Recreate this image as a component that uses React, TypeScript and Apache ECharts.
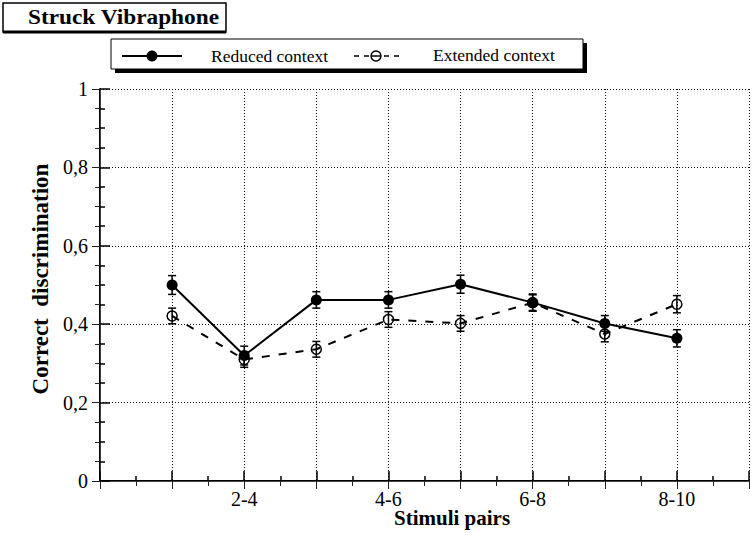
import React, { useEffect, useRef } from "react";
import * as echarts from "echarts";

// Stimulus pairs along the x axis (only every second pair is labelled)
const categories = ["1-3", "2-4", "3-5", "4-6", "5-7", "6-8", "7-9", "8-10"];
// Proportion of correct discrimination per pair
const reduced = [0.5, 0.32, 0.462, 0.462, 0.502, 0.455, 0.402, 0.364];
const extended = [0.421, 0.31, 0.336, 0.412, 0.402, 0.455, 0.375, 0.451];
// Half-widths of the error bars
const reducedErr = [0.024, 0.024, 0.021, 0.021, 0.023, 0.02, 0.02, 0.022];
const extendedErr = [0.02, 0.02, 0.02, 0.02, 0.02, 0.022, 0.02, 0.022];
// Y tick labels (decimal comma)
const yTickLabels = ["0", "0,2", "0,4", "0,6", "0,8", "1"];

const SERIF = "Liberation Serif";

function errorBars(values: number[], errs: number[]) {
  return {
    type: "custom",
    xAxisIndex: 0,
    yAxisIndex: 0,
    z: 3,
    silent: true,
    data: values.map((v, i) => [i + 1, v, errs[i]]),
    renderItem: (_params: any, api: any) => {
      const x = api.value(0);
      const y = api.value(1);
      const e = api.value(2);
      const top = api.coord([x, y + e]);
      const bot = api.coord([x, y - e]);
      const hw = 4;
      const style = { stroke: "#000", lineWidth: 1.5 };
      return {
        type: "group",
        children: [
          { type: "line", shape: { x1: top[0], y1: top[1], x2: bot[0], y2: bot[1] }, style },
          { type: "line", shape: { x1: top[0] - hw, y1: top[1], x2: top[0] + hw, y2: top[1] }, style },
          { type: "line", shape: { x1: bot[0] - hw, y1: bot[1], x2: bot[0] + hw, y2: bot[1] }, style },
        ],
      };
    },
  };
}

export default function App() {
  const ref = useRef<HTMLDivElement>(null);

  useEffect(() => {
    if (!ref.current) return;
    const chart = echarts.init(ref.current, undefined, { renderer: "svg" });

    const tickStyle = { color: "#000", width: 1.5 };
    const gridLine = { color: "#111", width: 1, type: [1, 2] as any };

    chart.setOption({
      animation: false,
      backgroundColor: "#fff",
      textStyle: { fontFamily: SERIF },
      grid: { left: 100, top: 89, width: 656, height: 392 },
      xAxis: [
        {
          type: "value",
          position: "bottom",
          min: 0,
          max: 9,
          interval: 1,
          axisLine: { lineStyle: { color: "#000", width: 2 } },
          axisTick: { inside: true, length: 10, lineStyle: tickStyle },
          minorTick: { show: true, splitNumber: 2, length: 5, lineStyle: tickStyle },
          splitLine: { show: true, lineStyle: gridLine },
          axisLabel: {
            color: "#000",
            fontFamily: SERIF,
            fontSize: 20,
            margin: 8,
            formatter: (v: number) => {
              const i = Math.round(v) - 1;
              return i % 2 === 1 && categories[i] ? categories[i] : "";
            },
          },
        },
        {
          type: "value",
          position: "top",
          min: 0,
          max: 9,
          interval: 1,
          axisLine: { lineStyle: { color: "#444", width: 1 } },
          axisTick: { inside: true, length: 8, lineStyle: { color: "#222", width: 1 } },
          minorTick: { show: true, splitNumber: 2, length: 5, lineStyle: { color: "#222", width: 1 } },
          splitLine: { show: false },
          axisLabel: { show: false },
        },
      ],
      yAxis: [
        {
          type: "value",
          position: "left",
          min: 0,
          max: 1,
          interval: 0.2,
          axisLine: { lineStyle: { color: "#000", width: 2 } },
          axisTick: { inside: true, length: 10, lineStyle: tickStyle },
          minorTick: { show: true, splitNumber: 4, length: 5, lineStyle: tickStyle },
          splitLine: { show: true, lineStyle: gridLine },
          axisLabel: {
            color: "#000",
            fontFamily: SERIF,
            fontSize: 20,
            margin: 12,
            formatter: (v: number) => yTickLabels[Math.round(v / 0.2)] ?? "",
          },
        },
        {
          type: "value",
          position: "right",
          min: 0,
          max: 1,
          interval: 0.2,
          axisLine: { lineStyle: { color: "#444", width: 1 } },
          axisTick: { inside: true, length: 8, lineStyle: { color: "#222", width: 1 } },
          minorTick: { show: true, splitNumber: 4, length: 5, lineStyle: { color: "#222", width: 1 } },
          splitLine: { show: false },
          axisLabel: { show: false },
        },
      ],
      series: [
        errorBars(extended, extendedErr),
        errorBars(reduced, reducedErr),
        {
          name: "Extended context",
          type: "line",
          z: 4,
          data: extended.map((v, i) => [i + 1, v]),
          symbol: "circle",
          symbolSize: 10,
          itemStyle: { color: "rgba(0,0,0,0)", borderColor: "#000", borderWidth: 1.5 },
          lineStyle: { color: "#000", width: 2, type: [8, 9] },
        },
        {
          name: "Reduced context",
          type: "line",
          z: 5,
          data: reduced.map((v, i) => [i + 1, v]),
          symbol: "circle",
          symbolSize: 11,
          itemStyle: { color: "#000" },
          lineStyle: { color: "#000", width: 2 },
        },
      ],
      graphic: [
        // title box
        {
          type: "rect",
          shape: { x: 3, y: 3, width: 223, height: 29 },
          style: { fill: "#fff", stroke: "#000", lineWidth: 1.5 },
        },
        {
          type: "line",
          shape: { x1: 3, y1: 32, x2: 226, y2: 32 },
          style: { stroke: "#000", lineWidth: 3 },
        },
        {
          type: "text",
          x: 28,
          y: 17,
          scaleX: 1.06,
          style: {
            text: "Struck Vibraphone",
            fontFamily: SERIF,
            fontWeight: "bold",
            fontSize: 22,
            fill: "#000",
            verticalAlign: "middle",
          },
        },
        // legend box with drop shadow
        {
          type: "rect",
          shape: { x: 115, y: 43, width: 472, height: 30 },
          style: { fill: "#000" },
        },
        {
          type: "rect",
          shape: { x: 111, y: 39, width: 472, height: 30 },
          style: { fill: "#fff", stroke: "#000", lineWidth: 1 },
        },
        {
          type: "line",
          shape: { x1: 122, y1: 56, x2: 182, y2: 56 },
          style: { stroke: "#000", lineWidth: 2 },
        },
        {
          type: "circle",
          shape: { cx: 152, cy: 56, r: 5.5 },
          style: { fill: "#000" },
        },
        {
          type: "text",
          x: 211,
          y: 56,
          style: {
            text: "Reduced context",
            fontFamily: SERIF,
            fontSize: 17.5,
            fill: "#000",
            verticalAlign: "middle",
          },
        },
        {
          type: "line",
          shape: { x1: 354, y1: 56, x2: 402, y2: 56 },
          style: { stroke: "#000", lineWidth: 1.5, lineDash: [5, 5] },
        },
        {
          type: "circle",
          shape: { cx: 376, cy: 56, r: 5 },
          style: { fill: "#fff", stroke: "#000", lineWidth: 1.5 },
        },
        {
          type: "line",
          shape: { x1: 371, y1: 56, x2: 381, y2: 56 },
          style: { stroke: "#000", lineWidth: 1.5 },
        },
        {
          type: "text",
          x: 433,
          y: 55,
          style: {
            text: "Extended context",
            fontFamily: SERIF,
            fontSize: 17.5,
            fill: "#000",
            verticalAlign: "middle",
          },
        },
        // axis names
        {
          type: "text",
          x: 40,
          y: 279,
          rotation: Math.PI / 2,
          style: {
            text: "Correct  discrimination",
            fontFamily: SERIF,
            fontWeight: "bold",
            fontSize: 23,
            fill: "#000",
            align: "center",
            verticalAlign: "middle",
          },
        },
        {
          type: "text",
          x: 452,
          y: 518,
          style: {
            text: "Stimuli pairs",
            fontFamily: SERIF,
            fontWeight: "bold",
            fontSize: 21,
            fill: "#000",
            align: "center",
            verticalAlign: "middle",
          },
        },
      ],
    });

    return () => chart.dispose();
  }, []);

  return (
    <div
      ref={ref}
      style={{ position: "fixed", left: 0, top: 0, width: 752, height: 535, background: "#fff" }}
    />
  );
}
